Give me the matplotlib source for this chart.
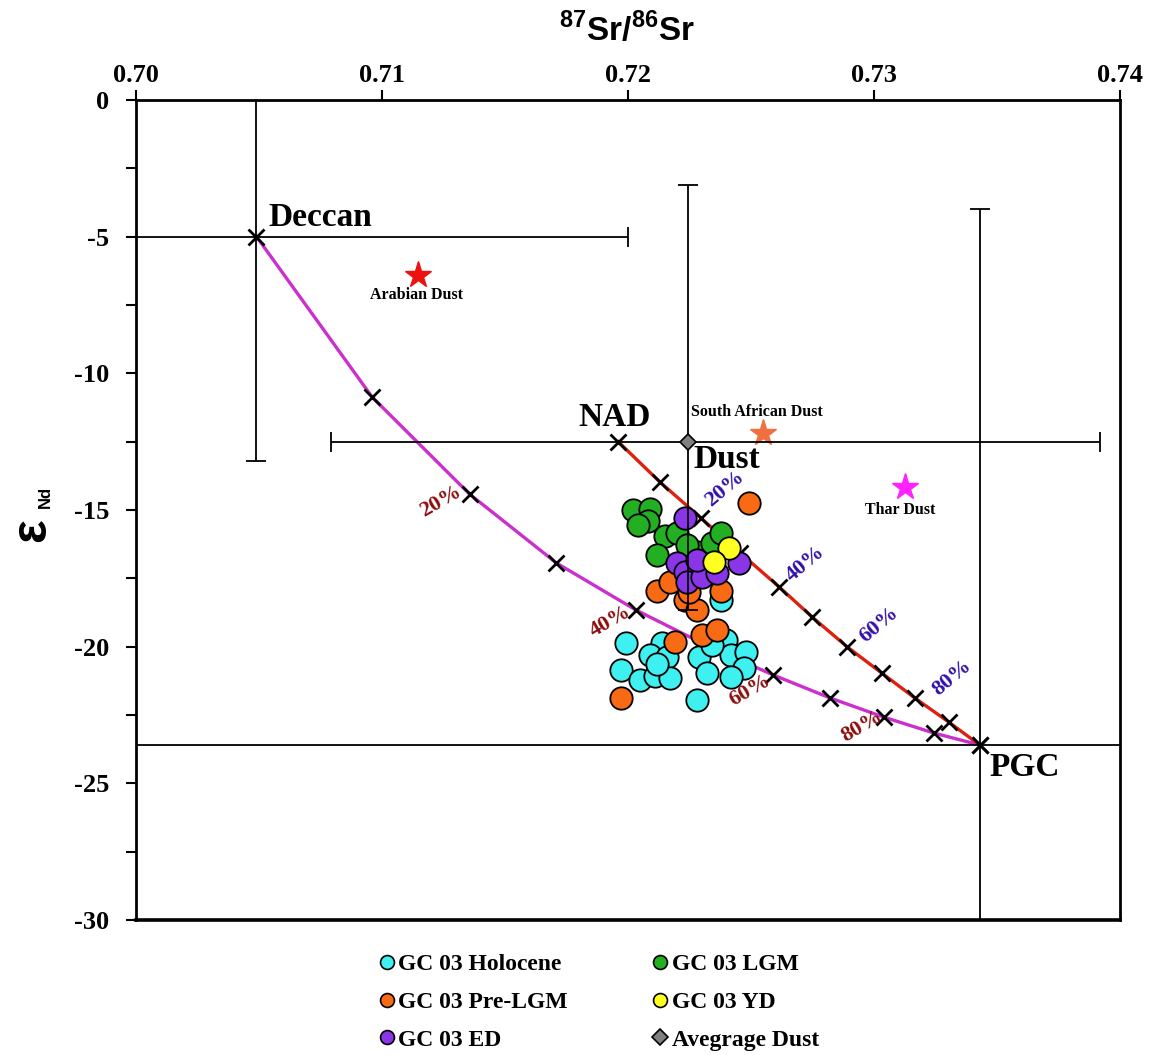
import matplotlib
matplotlib.use('Agg')
import matplotlib.pyplot as plt
from matplotlib.lines import Line2D

plt.rcParams['font.family'] = 'Liberation Serif'
plt.rcParams['font.weight'] = 'bold'
plt.rcParams['mathtext.fontset'] = 'custom'
plt.rcParams['mathtext.rm'] = 'Liberation Sans:bold'
plt.rcParams['mathtext.bf'] = 'Liberation Sans:bold'

# --- sample data (87Sr/86Sr, eNd) ---
holo_x = [0.7199, 0.7214, 0.7209, 0.7216, 0.7197, 0.7205, 0.7211, 0.7217, 0.7229, 0.7232,
          0.7228, 0.7240, 0.7242, 0.7248, 0.7247, 0.7242, 0.7238, 0.7234, 0.7212]
holo_y = [-19.87, -19.87, -20.30, -20.38, -20.85, -21.22, -21.07, -21.15, -20.38, -20.96,
          -21.95, -19.76, -20.30, -20.20, -20.78, -21.11, -18.29, -19.94, -20.63]

prelgm_x = [0.7249, 0.7212, 0.7217, 0.7223, 0.7228, 0.7238, 0.7225, 0.7230, 0.7236, 0.7219, 0.7197]
prelgm_y = [-14.74, -17.96, -17.63, -18.29, -18.66, -17.96, -18.00, -19.57, -19.39, -19.83, -21.88]

lgm_x = [0.7202, 0.7209, 0.7208, 0.7204, 0.7215, 0.7220, 0.7212, 0.7228, 0.7234, 0.7238, 0.7224]
lgm_y = [-15.00, -14.96, -15.40, -15.55, -15.95, -15.84, -16.65, -16.54, -16.21, -15.84, -16.28]

ed_x = [0.7223, 0.7220, 0.7223, 0.7224, 0.7230, 0.7236, 0.7245, 0.7228]
ed_y = [-15.29, -16.94, -17.27, -17.63, -17.45, -17.30, -16.94, -16.83]

yd_x = [0.7241, 0.7235]
yd_y = [-16.39, -16.90]

# end members: value, (minus, plus) errors
deccan = (0.7049, -5.0)
deccan_xerr = (0.0049, 0.0151)
deccan_yerr = (8.2, 8.2)
pgc = (0.7343, -23.6)
pgc_xerr = (0.04, 0.04)
pgc_yerr = (10.0, 19.6)
nad = (0.7196, -12.5)
avg_dust = (0.72243, -12.5)
avg_dust_xerr = (0.01449, 0.01677)
avg_dust_yerr = (6.16, 9.4)

# dust sources
dust_names = ['Arabian Dust', 'South African Dust', 'Thar Dust']
dust_x = [0.71146, 0.7255, 0.73126]
dust_y = [-6.4, -12.18, -14.16]
dust_colors = ['#EE1111', '#F07040', '#FF22FF']
dust_label_pos = [(0.71142, -7.13), (0.72526, -11.42), (0.73105, -15.0)]

# mixing curves, 10% steps
mix_dp_x = [0.7049, 0.70960, 0.71356, 0.71709, 0.72032, 0.72316, 0.72591, 0.72822, 0.73040, 0.73243, 0.7343]
mix_dp_y = [-5.0, -10.87, -14.42, -16.94, -18.66, -19.94, -21.04, -21.88, -22.58, -23.16, -23.6]
mix_np_x = [0.7196, 0.72130, 0.72296, 0.72457, 0.72615, 0.72749, 0.72891, 0.73032, 0.73166, 0.73304, 0.7343]
mix_np_y = [-12.5, -13.98, -15.29, -16.58, -17.82, -18.92, -20.01, -20.97, -21.88, -22.76, -23.6]
pct_labels = ['20%', '40%', '60%', '80%']
pct_dp_pos = [(0.71239, -14.71), (0.71927, -19.10), (0.72498, -21.59), (0.72951, -22.94)]
pct_np_pos = [(0.72393, -14.23), (0.72721, -16.98), (0.73020, -19.21), (0.73316, -21.15)]

fig = plt.figure(figsize=(11.57, 10.55), dpi=100)
ax = fig.add_axes([0.1175, 0.128, 0.8505, 0.7773])

ax.set_xlim(0.70, 0.74)
ax.set_ylim(-30, 0)
ax.xaxis.tick_top()
ax.set_xticks([0.70, 0.71, 0.72, 0.73, 0.74])
ax.set_xticklabels(['0.70', '0.71', '0.72', '0.73', '0.74'], fontsize=19, fontweight='bold')
ax.set_yticks(range(-30, 1, 5))
ax.set_yticklabels([str(v) for v in range(-30, 1, 5)], fontsize=19, fontweight='bold')
ax.set_yticks([-27.5, -22.5, -17.5, -12.5, -7.5, -2.5], minor=True)
ax.tick_params(axis='both', which='both', direction='out', length=7, width=1.5)
ax.tick_params(axis='x', top=True, bottom=False, pad=2)
ax.tick_params(axis='y', pad=12)
for s in ax.spines.values():
    s.set_linewidth(2.0)
ax.spines['bottom'].set_linewidth(2.6)

# mixing curves
ax.plot(mix_dp_x, mix_dp_y, color='#CC30CC', lw=2.4, marker='x', ms=11, mec='black', mew=2, zorder=2)
ax.plot(mix_np_x, mix_np_y, color='#DD2010', lw=2.4, marker='x', ms=11, mec='black', mew=2, zorder=2)

for lab, (px, py) in zip(pct_labels, pct_dp_pos):
    ax.text(px, py, lab, color='#8B1010', fontsize=16, fontweight='bold', rotation=30,
            ha='center', va='center', zorder=5)
for lab, (px, py) in zip(pct_labels, pct_np_pos):
    ax.text(px, py, lab, color='#3311AA', fontsize=16, fontweight='bold', rotation=40,
            ha='center', va='center', zorder=5)

# samples
sc = dict(s=260, edgecolors='black', linewidths=1.3, zorder=3)
ax.scatter(holo_x, holo_y, c='#3FF0F0', **sc)
ax.scatter(prelgm_x, prelgm_y, c='#F86A14', **sc)
ax.scatter(lgm_x, lgm_y, c='#22B022', **sc)
ax.scatter(ed_x, ed_y, c='#8B35E8', **sc)
ax.scatter(yd_x, yd_y, c='#FFFF22', **sc)

# end members with error bars
eb = dict(fmt='none', ecolor='black', elinewidth=1.3, capsize=7, capthick=1.3, zorder=4)
ax.errorbar(deccan[0], deccan[1], xerr=[[deccan_xerr[0]], [deccan_xerr[1]]],
            yerr=[[deccan_yerr[0]], [deccan_yerr[1]]], **eb)
ax.errorbar(pgc[0], pgc[1], xerr=[[pgc_xerr[0]], [pgc_xerr[1]]],
            yerr=[[pgc_yerr[0]], [pgc_yerr[1]]], **eb)
ax.errorbar(avg_dust[0], avg_dust[1], xerr=[[avg_dust_xerr[0]], [avg_dust_xerr[1]]],
            yerr=[[avg_dust_yerr[0]], [avg_dust_yerr[1]]], **eb)
ax.plot(avg_dust[0], avg_dust[1], marker='D', ms=8, mfc='#808080', mec='black', mew=1.2, zorder=5)

for name, dx, dy, col, (lx, ly) in zip(dust_names, dust_x, dust_y, dust_colors, dust_label_pos):
    ax.plot(dx, dy, marker='*', ms=20, color=col, ls='none', zorder=3)
    ax.text(lx, ly, name, fontsize=11.5, fontweight='bold', ha='center', va='center')

# end member labels
ax.text(0.7054, -4.3, 'Deccan', fontsize=24, fontweight='bold', ha='left', va='center')
ax.text(0.71947, -11.63, 'NAD', fontsize=24, fontweight='bold', ha='center', va='center')
ax.text(0.7240, -13.17, 'Dust', fontsize=24, fontweight='bold', ha='center', va='center')
ax.text(0.73611, -24.44, 'PGC', fontsize=24, fontweight='bold', ha='center', va='center')

# axis titles
fig.text(0.542, 0.9716, r'$^{\mathbf{87}}$Sr/$^{\mathbf{86}}$Sr', family='Liberation Sans',
         fontweight='bold', fontsize=24, ha='center', va='center')
fig.text(0.028, 1 - 530 / 1055, 'ε', family='Liberation Sans', fontweight='bold', fontsize=36,
         rotation=90, ha='center', va='center')
fig.text(0.039, 1 - 497 / 1055, 'Nd', family='Liberation Sans', fontweight='bold', fontsize=12,
         rotation=90, ha='center', va='center')

# legend
def circ(c):
    return Line2D([], [], ls='none', marker='o', ms=10, mfc=c, mec='black', mew=1.2)

handles = [circ('#3FF0F0'), circ('#F86A14'), circ('#8B35E8'),
           circ('#22B022'), circ('#FFFF22'),
           Line2D([], [], ls='none', marker='D', ms=8, mfc='#808080', mec='black', mew=1.2)]
labels = ['GC 03 Holocene', 'GC 03 Pre-LGM', 'GC 03 ED',
          'GC 03 LGM', 'GC 03 YD', 'Avegrage Dust']
fig.legend(handles, labels, loc='center', bbox_to_anchor=(0.517, 0.050), ncol=2, frameon=False,
           prop={'family': 'Liberation Serif', 'weight': 'bold', 'size': 17},
           handlelength=0.8, handletextpad=0.1, columnspacing=3.5, labelspacing=0.68)

fig.savefig('out.png', dpi=100)
